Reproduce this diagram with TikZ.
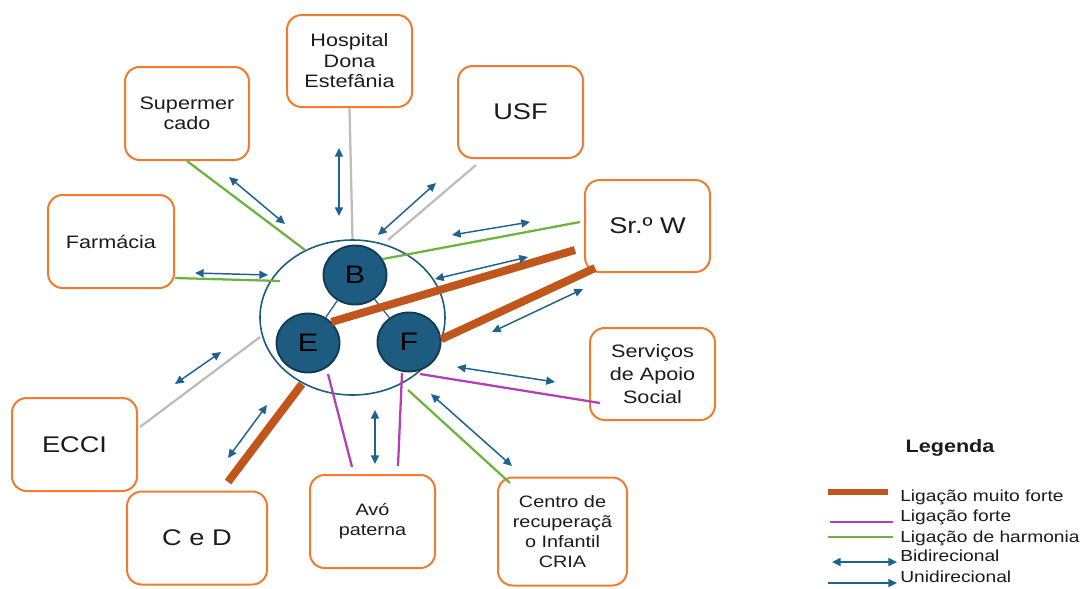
\documentclass[tikz,border=0pt]{standalone}
\usepackage{fontspec}
\setmainfont[FakeStretch=1.2]{Liberation Sans}
\usetikzlibrary{arrows.meta,shapes.geometric}
\definecolor{boxc}{HTML}{EE7D31}
\definecolor{thickc}{HTML}{C0561B}
\definecolor{magc}{HTML}{B040B4}
\definecolor{grnc}{HTML}{6DB33F}
\definecolor{gryc}{HTML}{BDBDBD}
\definecolor{arrc}{HTML}{1E6290}
\definecolor{famc}{HTML}{1D5C80}
\definecolor{famd}{HTML}{133A55}
\definecolor{txtc}{HTML}{1C1C1C}
\tikzset{
  ebox/.style={draw=boxc, line width=1.5pt, rounded corners=11pt, fill=white, inner sep=0pt, align=center, text=txtc},
  person/.style={ellipse, draw=famd, fill=famc, line width=1.4pt, minimum width=47.25pt, minimum height=44.25pt, inner sep=0pt, font=\fontsize{19}{22}\selectfont, text=black},
  grayl/.style={draw=gryc, line width=1.7pt},
  grnl/.style={draw=grnc, line width=1.7pt},
  magl/.style={draw=magc, line width=1.7pt},
  thickl/.style={draw=thickc, line width=6pt},
  biarr/.style={draw=arrc, line width=1.1pt, {Triangle[length=6.5pt,width=6pt]}-{Triangle[length=6.5pt,width=6pt]}},
  uniarr/.style={draw=arrc, line width=1.1pt, -{Triangle[length=6.5pt,width=6pt]}},
  legtxt/.style={anchor=west, inner sep=0pt, text=txtc, font=\fontsize{12}{14}\selectfont}
}
\begin{document}
\begin{tikzpicture}[x=0.75pt,y=-0.75pt]
\useasboundingbox[fill=white] (0,0) rectangle (1082,589);

% family circle
\node[ellipse, draw=famc, line width=1.2pt, minimum width=138.75pt, minimum height=116.25pt, inner sep=0pt] (fam) at (352.5,317.5) {};

% boxes
\node[ebox, minimum width=93.75pt, minimum height=69pt, font=\fontsize{13.5}{15.4}\selectfont] (hosp) at (349.5,61) {Hospital\\Dona\\Estefânia};
\node[ebox, minimum width=93pt, minimum height=69.75pt, font=\fontsize{13.5}{15}\selectfont] (super) at (187,113.5) {Supermer\\cado};
\node[ebox, minimum width=93.75pt, minimum height=69pt, font=\fontsize{17}{20}\selectfont] (usf) at (520.5,112) {USF};
\node[ebox, minimum width=94.5pt, minimum height=69.75pt, font=\fontsize{13.5}{15}\selectfont] (farm) at (111,241.5) {Farmácia};
\node[ebox, minimum width=93.75pt, minimum height=69pt, font=\fontsize{17}{20}\selectfont] (srw) at (647.5,226) {Sr.º W};
\node[ebox, minimum width=93.75pt, minimum height=69pt, font=\fontsize{13.5}{17}\selectfont] (serv) at (652.5,374) {Serviços\\de Apoio\\Social};
\node[ebox, minimum width=93.75pt, minimum height=69.75pt, font=\fontsize{17}{20}\selectfont] (ecci) at (74.5,444.5) {ECCI};
\node[ebox, minimum width=105pt, minimum height=69.75pt, font=\fontsize{17}{20}\selectfont] (ced) at (197,538) {C e D};
\node[ebox, minimum width=93.75pt, minimum height=69.75pt, font=\fontsize{12.4}{15}\selectfont] (avo) at (372.5,521.5) {Avó\\paterna};
\node[ebox, minimum width=96.75pt, minimum height=81pt, font=\fontsize{12.4}{15}\selectfont] (cria) at (562.5,531.5) {Centro de\\recuperaçã\\o Infantil\\CRIA};

% persons
\node[person] (B) at (355,275) {B};
\node[person] (E) at (308,343) {E};
\node[person] (F) at (409,342) {F};
\draw[draw=famc, line width=0.9pt] (B) -- (E);
\draw[draw=famc, line width=0.9pt] (B) -- (F);

% coordinates
\coordinate (hA1) at (339,148); \coordinate (hA2) at (339,216);
\coordinate (sG) at (305,250);
\coordinate (sA1) at (229,177); \coordinate (sA2) at (285,224);
\coordinate (uL1) at (476,165); \coordinate (uL2) at (388,240);
\coordinate (uA1) at (378,235); \coordinate (uA2) at (436,183);
\coordinate (fG1) at (175,278); \coordinate (fG2) at (280,281);
\coordinate (fA1) at (195,273); \coordinate (fA2) at (268,275);
\coordinate (wG) at (580,222);
\coordinate (wA1) at (452,235); \coordinate (wA2) at (530,222);
\coordinate (wT1) at (575,250);
\coordinate (wB1) at (435,279); \coordinate (wB2) at (528,257);
\coordinate (wT2) at (595,268);
\coordinate (wC1) at (492,332); \coordinate (wC2) at (583,289);
\coordinate (vM1) at (420,374); \coordinate (vM2) at (600,403);
\coordinate (vA1) at (457,367); \coordinate (vA2) at (555,382);
\coordinate (cG1) at (408,390); \coordinate (cG2) at (510,483);
\coordinate (cA1) at (431,394); \coordinate (cA2) at (512,466);
\coordinate (aM1) at (328,374); \coordinate (aM2) at (352,467);
\coordinate (aM3) at (402,373); \coordinate (aM4) at (398,466);
\coordinate (aA1) at (375,410); \coordinate (aA2) at (375,464);
\coordinate (dT1) at (302,384); \coordinate (dT2) at (228,482);
\coordinate (dA1) at (228,458); \coordinate (dA2) at (267,405);
\coordinate (eL1) at (140,427); \coordinate (eL2) at (260,337);
\coordinate (eA1) at (175,384); \coordinate (eA2) at (221,352);

% hospital
\draw[grayl] (hosp.south) -- (fam.north);
\draw[biarr] (hA1) -- (hA2);
% supermercado
\draw[grnl] (super.south) -- (sG);
\draw[biarr] (sA1) -- (sA2);
% USF
\draw[grayl] (uL1) -- (uL2);
\draw[biarr] (uA1) -- (uA2);
% farmacia
\draw[grnl] (fG1) -- (fG2);
\draw[biarr] (fA1) -- (fA2);
% Sr W
\draw[grnl] (B.30) -- (wG);
\draw[biarr] (wA1) -- (wA2);
\draw[thickl] (E.42) -- (wT1);
\draw[biarr] (wB1) -- (wB2);
\draw[thickl] (F.5) -- (wT2);
\draw[biarr] (wC1) -- (wC2);
% servicos
\draw[magl] (vM1) -- (vM2);
\draw[biarr] (vA1) -- (vA2);
% CRIA
\draw[grnl] (cG1) -- (cG2);
\draw[biarr] (cA1) -- (cA2);
% avo
\draw[magl] (aM1) -- (aM2);
\draw[magl] (aM3) -- (aM4);
\draw[biarr] (aA1) -- (aA2);
% C e D
\draw[thickl] (dT1) -- (dT2);
\draw[biarr] (dA1) -- (dA2);
% ECCI
\draw[grayl] (eL1) -- (eL2);
\draw[biarr] (eA1) -- (eA2);

% legend
\node[font=\bfseries\fontsize{13.5}{16}\selectfont, text=txtc] (leg) at (950,448) {Legenda};
\coordinate (l1a) at (828,492); \coordinate (l1b) at (888,492);
\coordinate (l2a) at (830,522); \coordinate (l2b) at (893,522);
\coordinate (l3a) at (828,537); \coordinate (l3b) at (893,537);
\coordinate (l4a) at (832,562); \coordinate (l4b) at (897,562);
\coordinate (l5a) at (828,583); \coordinate (l5b) at (897,583);
\draw[draw=thickc, line width=5pt] (l1a) -- (l1b);
\draw[magl] (l2a) -- (l2b);
\draw[grnl] (l3a) -- (l3b);
\draw[biarr] (l4a) -- (l4b);
\draw[uniarr] (l5a) -- (l5b);
\node[legtxt] (t1) at (900,497) {Ligação muito forte};
\node[legtxt] (t2) at (900,517) {Ligação forte};
\node[legtxt] (t3) at (900,538) {Ligação de harmonia};
\node[legtxt] (t4) at (900,556) {Bidirecional};
\node[legtxt] (t5) at (900,577) {Unidirecional};
\end{tikzpicture}
\end{document}
